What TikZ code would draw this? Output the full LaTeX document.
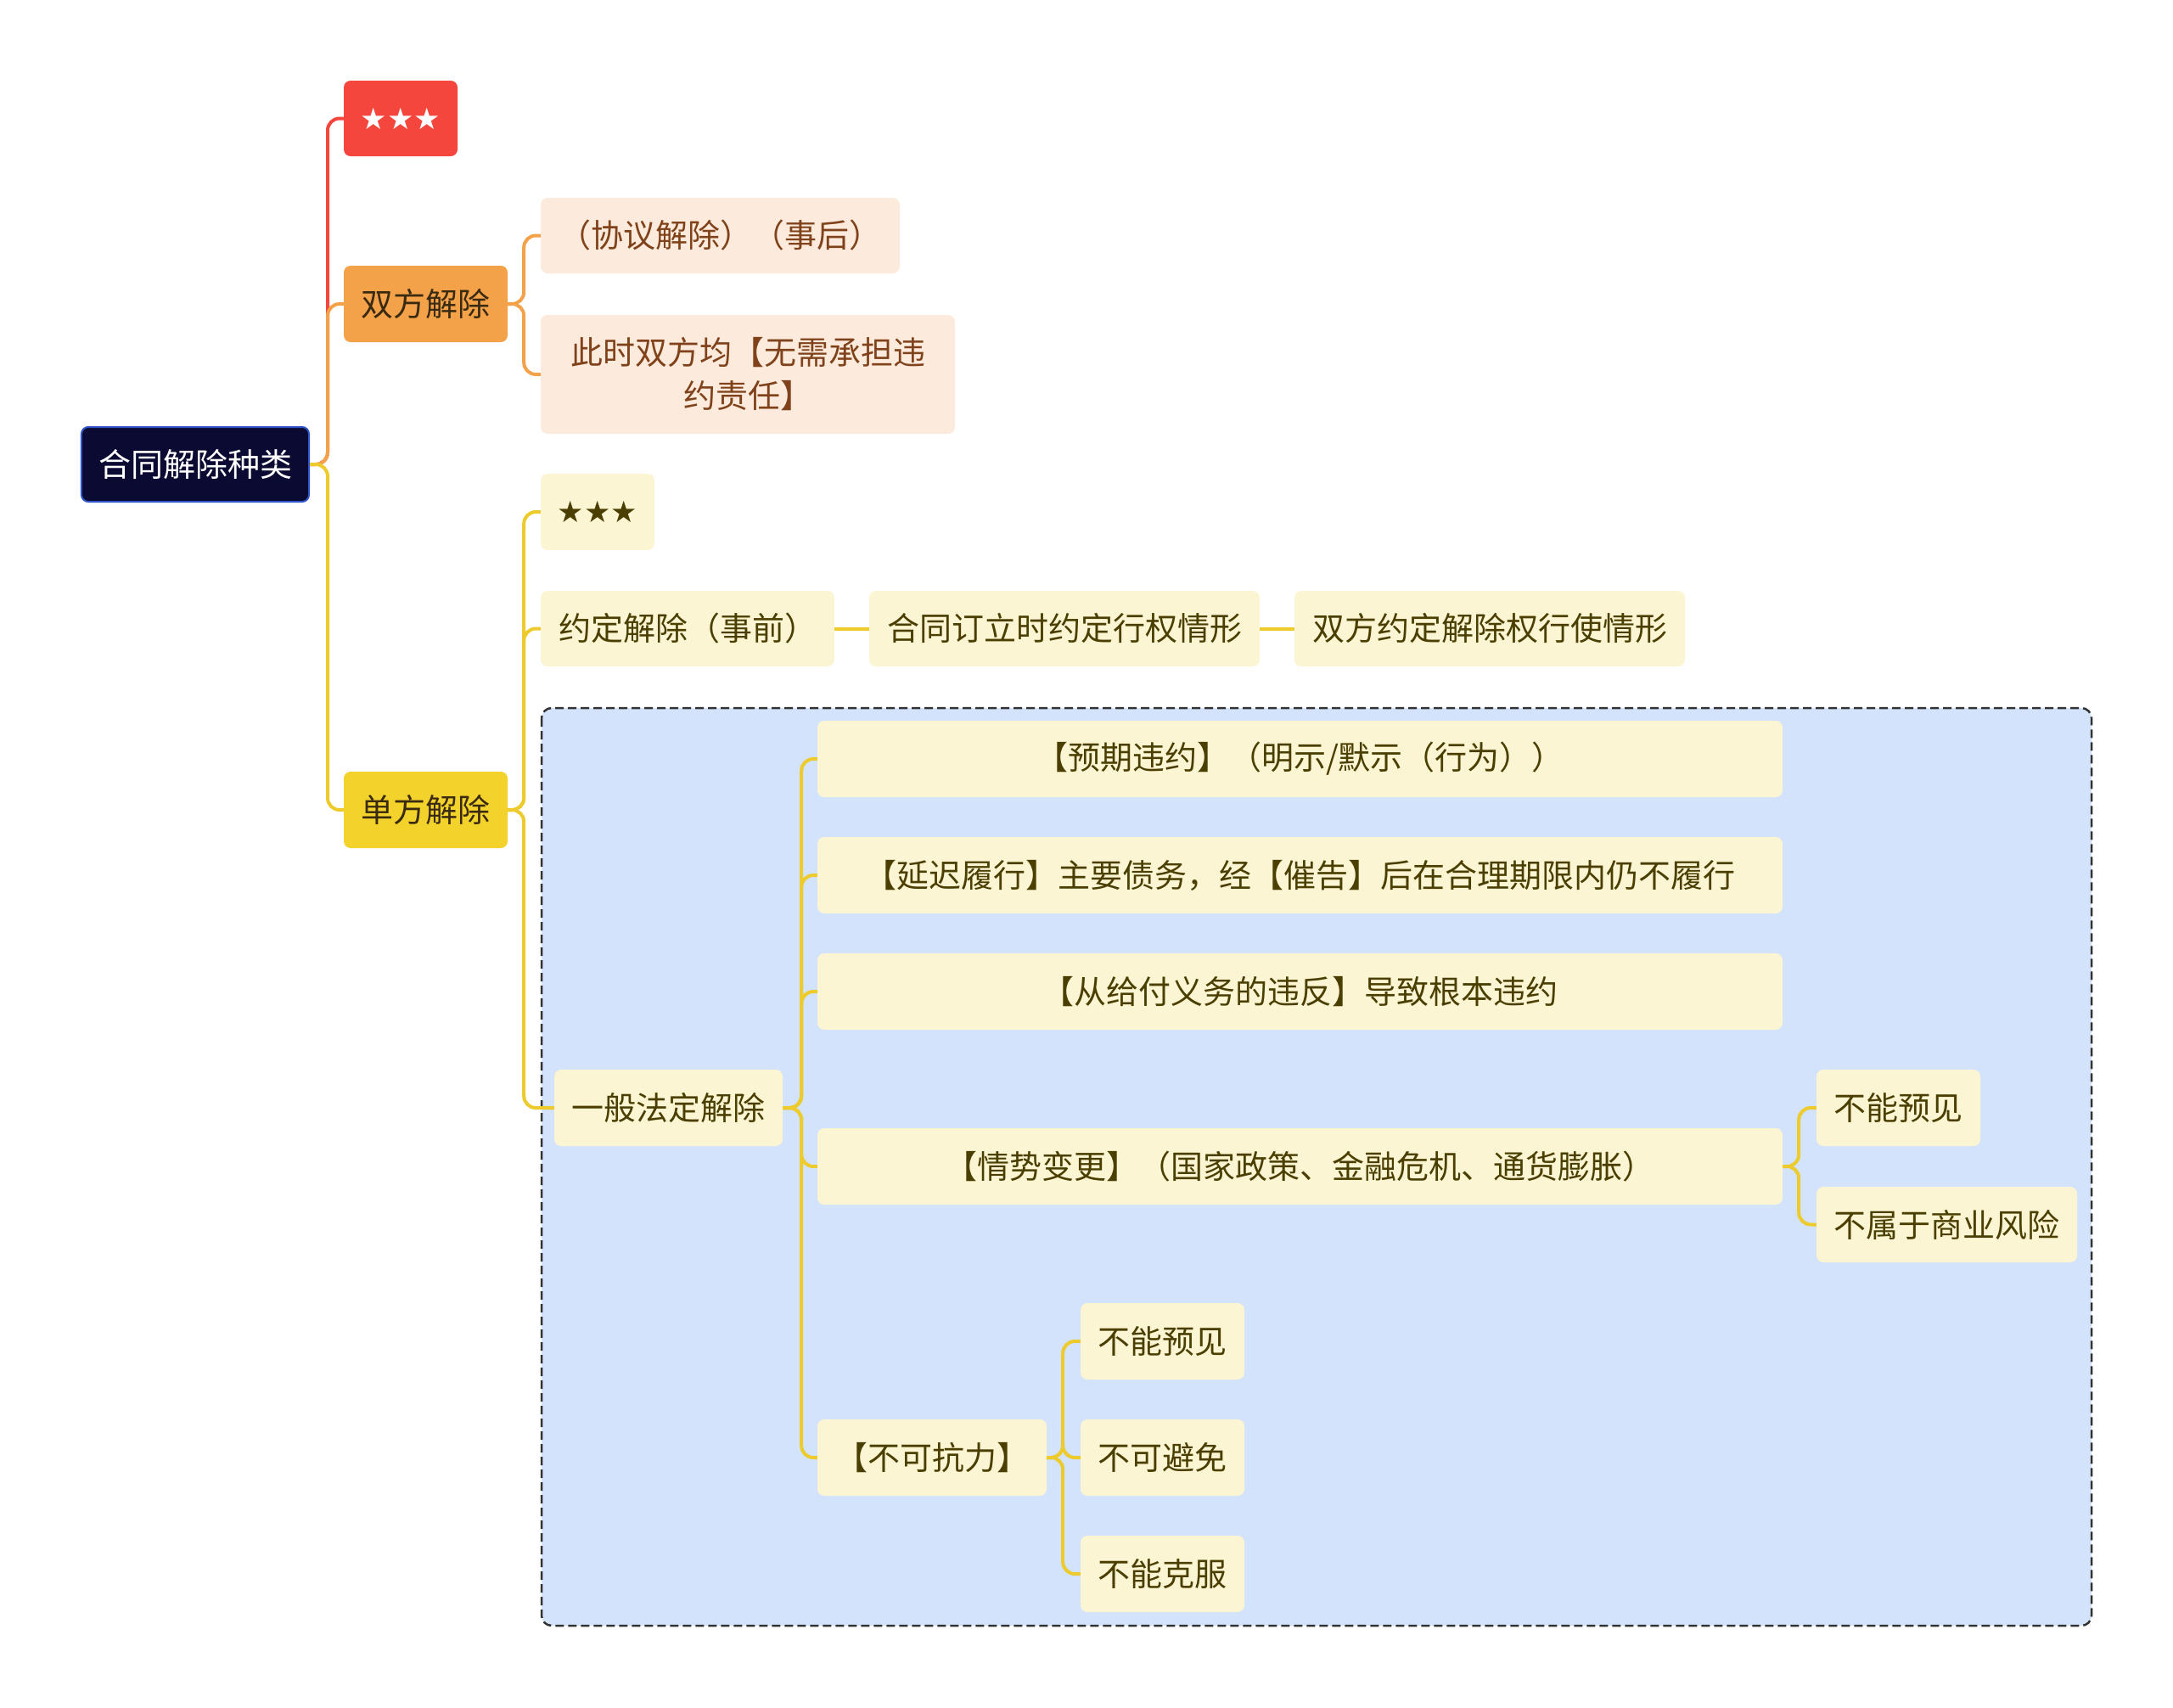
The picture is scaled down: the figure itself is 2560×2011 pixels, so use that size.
\documentclass[tikz,border=0pt]{standalone}
\usepackage{fontspec}
\setmainfont{Noto Sans CJK SC}
\newfontfamily\starfont{DejaVu Sans}
\usetikzlibrary{positioning}
\definecolor{rootfill}{HTML}{0A0A32}
\definecolor{rootborder}{HTML}{2F56C8}
\definecolor{redc}{HTML}{F5463D}
\definecolor{orangec}{HTML}{F4A24A}
\definecolor{yellowc}{HTML}{F2D22B}
\definecolor{liney}{HTML}{EDCB2C}
\definecolor{peach}{HTML}{FCEBDC}
\definecolor{peachtext}{HTML}{80421A}
\definecolor{lighty}{HTML}{FCF5D4}
\definecolor{olivetext}{HTML}{4A3F00}
\definecolor{darktext}{HTML}{3A2A10}
\definecolor{boxblue}{HTML}{D3E3FB}
\tikzset{
  base/.style={rounded corners=8bp, inner sep=0pt, align=center,
    font=\fontsize{38bp}{51bp}\selectfont},
  rootbox/.style={base, fill=rootfill, draw=rootborder, line width=2bp, text=white},
  redbox/.style={base, fill=redc, text=white},
  orangebox/.style={base, fill=orangec, text=darktext},
  yellowbox/.style={base, fill=yellowc, text=darktext},
  peachbox/.style={base, fill=peach, text=peachtext},
  lightbox/.style={base, fill=lighty, text=olivetext},
  mm/.style={line width=4bp, rounded corners=14bp},
}
\begin{document}
\begin{tikzpicture}[x=1bp,y=-1bp]
\useasboundingbox (0,0) rectangle (2560,2011);
% dashed group box
\draw[fill=boxblue, draw=black!80, dash pattern=on 10bp off 5bp, line width=2.5bp, rounded corners=12bp]
  (638,834) rectangle (2464,1915);

% nodes
\node[rootbox, minimum width=268bp, minimum height=88bp] (root) at (230,547) {合同解除种类};
\node[redbox, minimum width=134bp, minimum height=89bp] (star1) at (472,139.5) {\starfont\fontsize{35bp}{40bp}\selectfont ★★★};
\node[orangebox, minimum width=193bp, minimum height=90bp] (sf) at (501.5,358) {双方解除};
\node[peachbox, minimum width=423bp, minimum height=89bp] (sf1) at (848.5,277.5) {（协议解除）（事后）};
\node[peachbox, minimum width=488bp, minimum height=140bp] (sf2) at (881,441) {此时双方均【无需承担违\\约责任】};
\node[yellowbox, minimum width=193bp, minimum height=90bp] (df) at (501.5,954) {单方解除};
\node[lightbox, minimum width=134bp, minimum height=90bp] (ds) at (704,603) {\starfont\fontsize{35bp}{40bp}\selectfont ★★★};
\node[lightbox, minimum width=346bp, minimum height=89bp] (yd) at (810,740.5) {约定解除（事前）};
\node[lightbox, minimum width=460bp, minimum height=89bp] (yd1) at (1254,740.5) {合同订立时约定行权情形};
\node[lightbox, minimum width=460bp, minimum height=89bp] (yd2) at (1755,740.5) {双方约定解除权行使情形};
\node[lightbox, minimum width=269bp, minimum height=90bp] (fd) at (787.5,1305) {一般法定解除};
\node[lightbox, minimum width=1137bp, minimum height=90bp] (f1) at (1531.5,894) {【预期违约】（明示/默示（行为））};
\node[lightbox, minimum width=1137bp, minimum height=90bp] (f2) at (1531.5,1031) {【延迟履行】主要债务，经【催告】后在合理期限内仍不履行};
\node[lightbox, minimum width=1137bp, minimum height=90bp] (f3) at (1531.5,1168) {【从给付义务的违反】导致根本违约};
\node[lightbox, minimum width=1137bp, minimum height=90bp] (f4) at (1531.5,1374) {【情势变更】（国家政策、金融危机、通货膨胀）};
\node[lightbox, minimum width=270bp, minimum height=90bp] (f5) at (1098,1717) {【不可抗力】};
\node[lightbox, minimum width=193bp, minimum height=90bp] (g1) at (2236.5,1305) {不能预见};
\node[lightbox, minimum width=307bp, minimum height=89bp] (g2) at (2293.5,1442.5) {不属于商业风险};
\node[lightbox, minimum width=193bp, minimum height=90bp] (h1) at (1369.5,1580) {不能预见};
\node[lightbox, minimum width=193bp, minimum height=90bp] (h2) at (1369.5,1717) {不可避免};
\node[lightbox, minimum width=193bp, minimum height=90bp] (h3) at (1369.5,1854) {不能克服};

% connectors from root
\draw[mm, redc] (root.east) -- ++(21,0) |- (star1.west);
\draw[mm, orangec] (root.east) -- ++(21,0) |- (sf.west);
\draw[mm, liney] (root.east) -- ++(21,0) |- (df.west);
% 双方解除
\draw[mm, orangec] (sf.east) -- ++(19,0) |- (sf1.west);
\draw[mm, orangec] (sf.east) -- ++(19,0) |- (sf2.west);
% 单方解除
\draw[mm, liney] (df.east) -- ++(19,0) |- (ds.west);
\draw[mm, liney] (df.east) -- ++(19,0) |- (yd.west);
\draw[mm, liney] (df.east) -- ++(19,0) |- (fd.west);
% 约定解除 chain
\draw[mm, liney] (yd.east) -- (yd1.west);
\draw[mm, liney] (yd1.east) -- (yd2.west);
% 一般法定解除
\foreach \c in {f1,f2,f3,f4,f5}
  \draw[mm, liney] (fd.east) -- ++(22,0) |- (\c.west);
% 情势变更
\draw[mm, liney] (f4.east) -- ++(19,0) |- (g1.west);
\draw[mm, liney] (f4.east) -- ++(19,0) |- (g2.west);
% 不可抗力
\foreach \c in {h1,h2,h3}
  \draw[mm, liney] (f5.east) -- ++(19,0) |- (\c.west);
\end{tikzpicture}
\end{document}
